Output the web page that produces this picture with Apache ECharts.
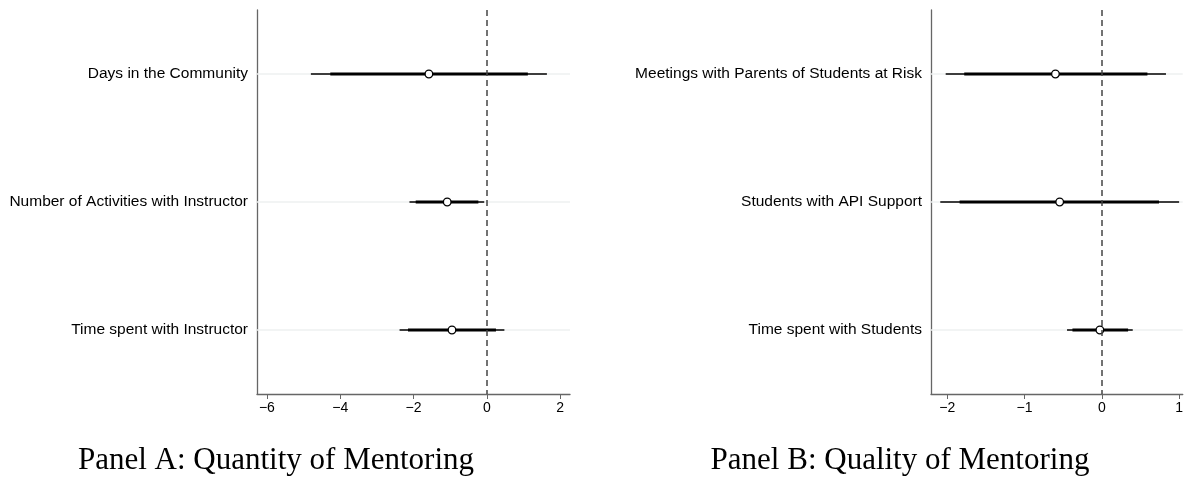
<!DOCTYPE html>
<html>
<head>
<meta charset="utf-8">
<script src="https://cdn.jsdelivr.net/npm/echarts@6/dist/echarts.min.js"></script>
<style>
html,body{margin:0;padding:0;background:#fff;}
#c{width:1186px;height:483px;}
</style>
</head>
<body>
<div id="c"></div>
<script>
// Panel A: Quantity of Mentoring
const catsA = ["Days in the Community", "Number of Activities with Instructor", "Time spent with Instructor"];
const estA = [-1.58, -1.08, -0.95];
const lo95A = [-4.80, -2.11, -2.38];
const hi95A = [1.64, -0.07, 0.48];
const lo90A = [-4.27, -1.94, -2.15];
const hi90A = [1.12, -0.23, 0.25];
const ticksA = [-6, -4, -2, 0, 2];

// Panel B: Quality of Mentoring
const catsB = ["Meetings with Parents of Students at Risk", "Students with API Support", "Time spent with Students"];
const estB = [-0.60, -0.545, -0.025];
const lo95B = [-2.02, -2.09, -0.45];
const hi95B = [0.83, 1.00, 0.40];
const lo90B = [-1.78, -1.84, -0.38];
const hi90B = [0.59, 0.74, 0.34];
const ticksB = [-2, -1, 0, 1];

const titles = ["Panel A: Quantity of Mentoring", "Panel B: Quality of Mentoring"];

function rows(cats, lo95, hi95, lo90, hi90, est) {
  return cats.map((c, i) => [i, lo95[i], hi95[i], lo90[i], hi90[i], est[i]]);
}
const fmt = v => v < 0 ? '\u2212' + Math.abs(v) : String(v);

function renderItem(params, api) {
  const cs = params.coordSys;
  const yi = api.value(0);
  const a = api.coord([api.value(1), yi]);
  const b = api.coord([api.value(2), yi]);
  const c = api.coord([api.value(3), yi]);
  const d = api.coord([api.value(4), yi]);
  const e = api.coord([api.value(5), yi]);
  const y = a[1];
  return {
    type: 'group',
    children: [
      {type: 'line', shape: {x1: cs.x, y1: y, x2: cs.x + cs.width, y2: y}, style: {stroke: '#eef0f0', lineWidth: 1.5}, z2: 0},
      {type: 'line', shape: {x1: a[0], y1: y, x2: b[0], y2: y}, style: {stroke: '#000', lineWidth: 1.4}, z2: 1},
      {type: 'line', shape: {x1: c[0], y1: y, x2: d[0], y2: y}, style: {stroke: '#000', lineWidth: 3}, z2: 2},
      {type: 'circle', shape: {cx: e[0], cy: y, r: 3.8}, style: {fill: '#fff', stroke: '#000', lineWidth: 1.3}, z2: 5}
    ]
  };
}

function yAxis(cats, idx) {
  return {
    type: 'category', gridIndex: idx, data: cats, inverse: true,
    axisLine: {show: true, onZero: false, lineStyle: {color: '#666', width: 1.3}},
    axisTick: {alignWithLabel: true, length: 5, lineStyle: {color: '#666'}},
    axisLabel: {fontFamily: 'Liberation Sans', fontSize: 15.5, color: '#000', margin: 9},
    splitLine: {show: false}
  };
}
function xAxis(min, max, ticks, idx) {
  return {
    type: 'value', gridIndex: idx, min: min, max: max,
    axisLine: {show: true, onZero: false, lineStyle: {color: '#666', width: 1.3}},
    axisTick: {show: true, length: 5, customValues: ticks, lineStyle: {color: '#666'}},
    axisLabel: {customValues: ticks, formatter: fmt, fontFamily: 'Liberation Sans', fontSize: 14, color: '#000', margin: 7},
    splitLine: {show: false}
  };
}
const markLine = {
  silent: true, symbol: 'none', label: {show: false},
  lineStyle: {type: [6, 4], color: '#444', width: 1.5},
  data: [{xAxis: 0}], z: 10
};
const titleStyle = {fontFamily: 'Liberation Serif', fontWeight: 'normal', fontSize: 31, color: '#000'};

const chart = echarts.init(document.getElementById('c'), null, {renderer: 'canvas'});
chart.setOption({
  animation: false,
  backgroundColor: '#fff',
  title: [
    {text: titles[0], left: 276, top: 445, textAlign: 'center', padding: 0, textStyle: titleStyle},
    {text: titles[1], left: 900, top: 445, textAlign: 'center', padding: 0, textStyle: titleStyle}
  ],
  grid: [
    {left: 257, top: 10, width: 313, height: 384},
    {left: 931, top: 10, width: 255, height: 384}
  ],
  xAxis: [xAxis(-6.27, 2.27, ticksA, 0), xAxis(-2.21, 1.047, ticksB, 1)],
  yAxis: [yAxis(catsA, 0), yAxis(catsB, 1)],
  series: [
    {type: 'custom', xAxisIndex: 0, yAxisIndex: 0, renderItem, encode: {x: [1, 2, 3, 4, 5], y: 0},
     data: rows(catsA, lo95A, hi95A, lo90A, hi90A, estA), markLine: markLine, clip: false},
    {type: 'custom', xAxisIndex: 1, yAxisIndex: 1, renderItem, encode: {x: [1, 2, 3, 4, 5], y: 0},
     data: rows(catsB, lo95B, hi95B, lo90B, hi90B, estB), markLine: markLine, clip: false}
  ]
});
</script>
</body>
</html>
